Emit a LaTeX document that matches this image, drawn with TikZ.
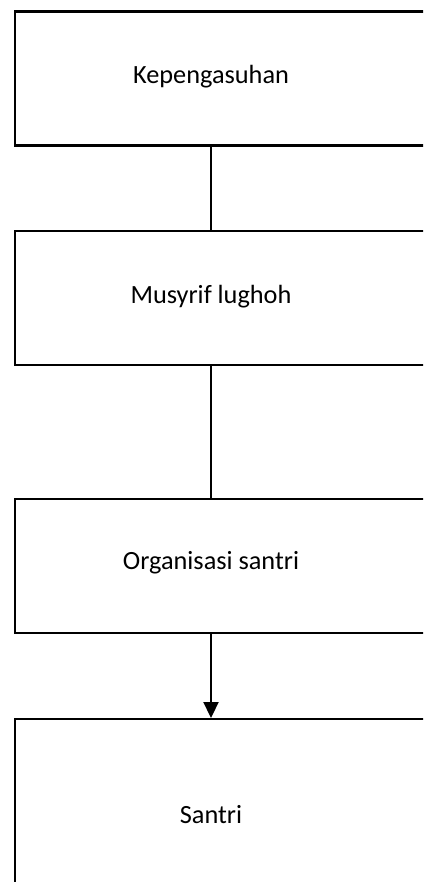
\documentclass[tikz,border=0pt]{standalone}
\usepackage{fontspec}
\setmainfont{Carlito}
\usetikzlibrary{arrows.meta}
\begin{document}
\begin{tikzpicture}[x=1pt,y=-1pt,
  boxnode/.style={draw=black,line width=2.2pt,fill=white,inner sep=0pt,anchor=north west},
  lbl/.style={inner sep=0pt,font=\fontsize{26.3}{31}\selectfont},
  conn/.style={draw=black,line width=2.2pt}]
\useasboundingbox (0,0) rectangle (423,882);
\fill[white] (0,0) rectangle (423,882);
\clip (0,0) rectangle (423,882);
\node[boxnode,minimum width=420pt,minimum height=134pt] (b1) at (13.5,10.5) {};
\node[boxnode,minimum width=420pt,minimum height=133.5pt] (b2) at (13.5,230) {};
\node[boxnode,minimum width=420pt,minimum height=134pt] (b3) at (13.5,498) {};
\node[boxnode,minimum width=420pt,minimum height=200pt] (b4) at (13.5,718) {};
\node[lbl] (t1) at (211,77) {Kepengasuhan};
\node[lbl] (t2) at (211,297) {Musyrif lughoh};
\node[lbl] (t3) at (211,563) {Organisasi santri};
\node[lbl] (t4) at (211,815) {Santri};
\draw[conn] (t1 |- b1.south) -- (t2 |- b2.north);
\draw[conn] (t2 |- b2.south) -- (t3 |- b3.north);
\draw[conn,-{Triangle[width=15pt,length=16pt]}] (t3 |- b3.south) -- (t4 |- b4.north);
\end{tikzpicture}
\end{document}
